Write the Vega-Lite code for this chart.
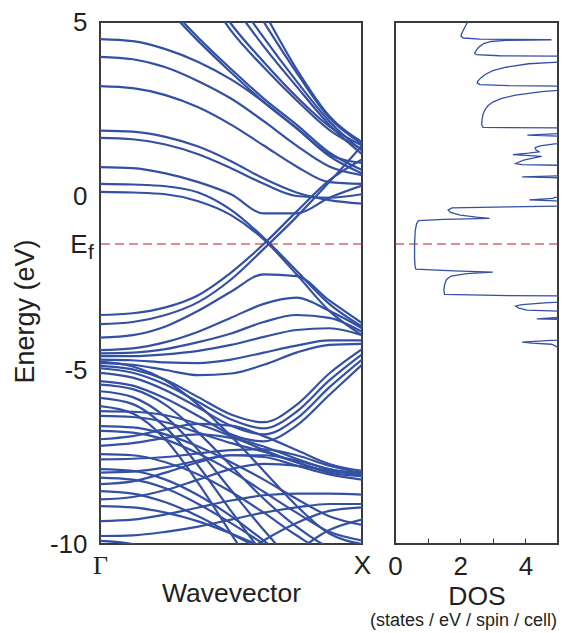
{
  "$schema": "https://vega.github.io/schema/vega-lite/v6.json",
  "background": "white",
  "padding": {"left": 10, "top": 8, "right": 2, "bottom": 2},
  "config": {
    "view": {"stroke": "#3a3a3a", "strokeWidth": 2},
    "axis": {"grid": false, "domain": false, "labelFont": "Liberation Sans", "titleFont": "Liberation Sans", "labelColor": "#231f20", "titleColor": "#231f20", "labelFontSize": 26, "titleFontSize": 26.5, "titleFontWeight": "normal"},
    "title": {"font": "Liberation Sans", "color": "#231f20", "fontWeight": "normal"}
  },
  "datasets": {
    "bands": [
      {"b":1,"x":0,"e":6.3},{"b":1,"x":0.125,"e":6.1},{"b":1,"x":0.25,"e":5.4},{"b":1,"x":0.375,"e":4.45},{"b":1,"x":0.5,"e":3.55},{"b":1,"x":0.625,"e":2.7},{"b":1,"x":0.75,"e":1.95},{"b":1,"x":0.875,"e":1.15},{"b":1,"x":1,"e":0.65},
      {"b":2,"x":0,"e":6.4},{"b":2,"x":0.125,"e":6.2},{"b":2,"x":0.25,"e":5.5},{"b":2,"x":0.375,"e":4.55},{"b":2,"x":0.5,"e":3.65},{"b":2,"x":0.625,"e":2.8},{"b":2,"x":0.75,"e":2.05},{"b":2,"x":0.875,"e":1.25},{"b":2,"x":1,"e":0.75},
      {"b":3,"x":0,"e":8.6},{"b":3,"x":0.125,"e":8.3},{"b":3,"x":0.25,"e":7.5},{"b":3,"x":0.375,"e":6.2},{"b":3,"x":0.5,"e":4.75},{"b":3,"x":0.625,"e":3.7},{"b":3,"x":0.75,"e":2.75},{"b":3,"x":0.875,"e":1.9},{"b":3,"x":1,"e":1.35},
      {"b":4,"x":0,"e":8.8},{"b":4,"x":0.125,"e":8.5},{"b":4,"x":0.25,"e":7.7},{"b":4,"x":0.375,"e":6.4},{"b":4,"x":0.5,"e":4.95},{"b":4,"x":0.625,"e":3.85},{"b":4,"x":0.75,"e":2.85},{"b":4,"x":0.875,"e":2.0},{"b":4,"x":1,"e":1.45},
      {"b":5,"x":0,"e":9.6},{"b":5,"x":0.125,"e":9.3},{"b":5,"x":0.25,"e":8.5},{"b":5,"x":0.375,"e":7.2},{"b":5,"x":0.5,"e":5.6},{"b":5,"x":0.625,"e":4.3},{"b":5,"x":0.75,"e":3.15},{"b":5,"x":0.875,"e":2.05},{"b":5,"x":1,"e":1.2},
      {"b":6,"x":0,"e":9.9},{"b":6,"x":0.125,"e":9.6},{"b":6,"x":0.25,"e":8.8},{"b":6,"x":0.375,"e":7.5},{"b":6,"x":0.5,"e":5.9},{"b":6,"x":0.625,"e":4.55},{"b":6,"x":0.75,"e":3.3},{"b":6,"x":0.875,"e":2.15},{"b":6,"x":1,"e":1.3},
      {"b":7,"x":0,"e":10.6},{"b":7,"x":0.125,"e":10.3},{"b":7,"x":0.25,"e":9.5},{"b":7,"x":0.375,"e":8.1},{"b":7,"x":0.5,"e":6.5},{"b":7,"x":0.625,"e":5.0},{"b":7,"x":0.75,"e":3.55},{"b":7,"x":0.875,"e":2.25},{"b":7,"x":1,"e":1.5},
      {"b":8,"x":0,"e":11.1},{"b":8,"x":0.125,"e":10.8},{"b":8,"x":0.25,"e":10.0},{"b":8,"x":0.375,"e":8.6},{"b":8,"x":0.5,"e":7.0},{"b":8,"x":0.625,"e":5.3},{"b":8,"x":0.75,"e":3.65},{"b":8,"x":0.875,"e":2.3},{"b":8,"x":1,"e":1.55},
      {"b":9,"x":0,"e":4.51},{"b":9,"x":0.125,"e":4.45},{"b":9,"x":0.25,"e":4.22},{"b":9,"x":0.375,"e":3.85},{"b":9,"x":0.5,"e":3.35},{"b":9,"x":0.625,"e":2.7},{"b":9,"x":0.75,"e":1.95},{"b":9,"x":0.875,"e":1.2},{"b":9,"x":1,"e":0.95},
      {"b":10,"x":0,"e":4.0},{"b":10,"x":0.125,"e":3.93},{"b":10,"x":0.25,"e":3.7},{"b":10,"x":0.375,"e":3.3},{"b":10,"x":0.5,"e":2.8},{"b":10,"x":0.625,"e":2.15},{"b":10,"x":0.75,"e":1.45},{"b":10,"x":0.875,"e":0.85},{"b":10,"x":1,"e":0.6},
      {"b":11,"x":0,"e":3.16},{"b":11,"x":0.125,"e":3.1},{"b":11,"x":0.25,"e":2.9},{"b":11,"x":0.375,"e":2.55},{"b":11,"x":0.5,"e":2.05},{"b":11,"x":0.625,"e":1.45},{"b":11,"x":0.75,"e":0.85},{"b":11,"x":0.875,"e":0.4},{"b":11,"x":1,"e":0.35},
      {"b":12,"x":0,"e":1.88},{"b":12,"x":0.125,"e":1.85},{"b":12,"x":0.25,"e":1.7},{"b":12,"x":0.375,"e":1.42},{"b":12,"x":0.5,"e":1.0},{"b":12,"x":0.625,"e":0.5},{"b":12,"x":0.75,"e":0.1},{"b":12,"x":0.875,"e":-0.12},{"b":12,"x":1,"e":-0.22},
      {"b":13,"x":0,"e":1.67},{"b":13,"x":0.125,"e":1.63},{"b":13,"x":0.25,"e":1.48},{"b":13,"x":0.375,"e":1.2},{"b":13,"x":0.5,"e":0.8},{"b":13,"x":0.625,"e":0.35},{"b":13,"x":0.75,"e":0.0},{"b":13,"x":0.875,"e":-0.05},{"b":13,"x":1,"e":0.05},
      {"b":14,"x":0,"e":0.83},{"b":14,"x":0.125,"e":0.8},{"b":14,"x":0.25,"e":0.65},{"b":14,"x":0.375,"e":0.4},{"b":14,"x":0.5,"e":0.05},{"b":14,"x":0.625,"e":-0.5},{"b":14,"x":0.75,"e":-0.5},{"b":14,"x":0.875,"e":-0.05},{"b":14,"x":1,"e":0.3},
      {"b":15,"x":0,"e":0.35},{"b":15,"x":0.125,"e":0.33},{"b":15,"x":0.25,"e":0.28},{"b":15,"x":0.375,"e":0.1},{"b":15,"x":0.5,"e":-0.4},{"b":15,"x":0.625,"e":-1.2},{"b":15,"x":0.75,"e":-2.15},{"b":15,"x":0.875,"e":-3.1},{"b":15,"x":1,"e":-3.75},
      {"b":16,"x":0,"e":0.12},{"b":16,"x":0.125,"e":0.1},{"b":16,"x":0.25,"e":0.05},{"b":16,"x":0.375,"e":-0.15},{"b":16,"x":0.5,"e":-0.55},{"b":16,"x":0.625,"e":-1.25},{"b":16,"x":0.75,"e":-2.25},{"b":16,"x":0.875,"e":-3.3},{"b":16,"x":1,"e":-4.0},
      {"b":17,"x":0,"e":-3.42},{"b":17,"x":0.125,"e":-3.37},{"b":17,"x":0.25,"e":-3.2},{"b":17,"x":0.375,"e":-2.85},{"b":17,"x":0.5,"e":-2.2},{"b":17,"x":0.625,"e":-1.38},{"b":17,"x":0.75,"e":-0.45},{"b":17,"x":0.875,"e":0.45},{"b":17,"x":1,"e":1.05},
      {"b":18,"x":0,"e":-3.68},{"b":18,"x":0.125,"e":-3.62},{"b":18,"x":0.25,"e":-3.42},{"b":18,"x":0.375,"e":-3.05},{"b":18,"x":0.5,"e":-2.4},{"b":18,"x":0.625,"e":-1.52},{"b":18,"x":0.75,"e":-0.6},{"b":18,"x":0.875,"e":0.4},{"b":18,"x":1,"e":1.45},
      {"b":19,"x":0,"e":-4.07},{"b":19,"x":0.125,"e":-4.0},{"b":19,"x":0.25,"e":-3.75},{"b":19,"x":0.375,"e":-3.3},{"b":19,"x":0.5,"e":-2.75},{"b":19,"x":0.625,"e":-2.25},{"b":19,"x":0.75,"e":-2.3},{"b":19,"x":0.875,"e":-3.0},{"b":19,"x":1,"e":-3.65},
      {"b":20,"x":0,"e":-4.43},{"b":20,"x":0.125,"e":-4.38},{"b":20,"x":0.25,"e":-4.2},{"b":20,"x":0.375,"e":-3.9},{"b":20,"x":0.5,"e":-3.5},{"b":20,"x":0.625,"e":-3.1},{"b":20,"x":0.75,"e":-2.92},{"b":20,"x":0.875,"e":-3.3},{"b":20,"x":1,"e":-3.8},
      {"b":21,"x":0,"e":-4.52},{"b":21,"x":0.125,"e":-4.5},{"b":21,"x":0.25,"e":-4.4},{"b":21,"x":0.375,"e":-4.2},{"b":21,"x":0.5,"e":-3.95},{"b":21,"x":0.625,"e":-3.62},{"b":21,"x":0.75,"e":-3.42},{"b":21,"x":0.875,"e":-3.5},{"b":21,"x":1,"e":-3.9},
      {"b":22,"x":0,"e":-4.6},{"b":22,"x":0.125,"e":-4.6},{"b":22,"x":0.25,"e":-4.55},{"b":22,"x":0.375,"e":-4.45},{"b":22,"x":0.5,"e":-4.28},{"b":22,"x":0.625,"e":-4.05},{"b":22,"x":0.75,"e":-3.85},{"b":22,"x":0.875,"e":-3.8},{"b":22,"x":1,"e":-4.0},
      {"b":23,"x":0,"e":-4.7},{"b":23,"x":0.125,"e":-4.72},{"b":23,"x":0.25,"e":-4.78},{"b":23,"x":0.375,"e":-4.8},{"b":23,"x":0.5,"e":-4.7},{"b":23,"x":0.625,"e":-4.5},{"b":23,"x":0.75,"e":-4.3},{"b":23,"x":0.875,"e":-4.15},{"b":23,"x":1,"e":-4.15},
      {"b":24,"x":0,"e":-4.8},{"b":24,"x":0.125,"e":-4.85},{"b":24,"x":0.25,"e":-5.0},{"b":24,"x":0.375,"e":-5.15},{"b":24,"x":0.5,"e":-5.1},{"b":24,"x":0.625,"e":-4.85},{"b":24,"x":0.75,"e":-4.5},{"b":24,"x":0.875,"e":-4.28},{"b":24,"x":1,"e":-4.25},
      {"b":25,"x":0,"e":-4.88},{"b":25,"x":0.125,"e":-4.98},{"b":25,"x":0.25,"e":-5.28},{"b":25,"x":0.375,"e":-5.78},{"b":25,"x":0.5,"e":-6.28},{"b":25,"x":0.625,"e":-6.5},{"b":25,"x":0.75,"e":-6.0},{"b":25,"x":0.875,"e":-5.1},{"b":25,"x":1,"e":-4.4},
      {"b":26,"x":0,"e":-4.95},{"b":26,"x":0.125,"e":-5.08},{"b":26,"x":0.25,"e":-5.42},{"b":26,"x":0.375,"e":-5.92},{"b":26,"x":0.5,"e":-6.42},{"b":26,"x":0.625,"e":-6.68},{"b":26,"x":0.75,"e":-6.2},{"b":26,"x":0.875,"e":-5.3},{"b":26,"x":1,"e":-4.55},
      {"b":27,"x":0,"e":-5.08},{"b":27,"x":0.125,"e":-5.22},{"b":27,"x":0.25,"e":-5.58},{"b":27,"x":0.375,"e":-6.08},{"b":27,"x":0.5,"e":-6.6},{"b":27,"x":0.625,"e":-6.85},{"b":27,"x":0.75,"e":-6.4},{"b":27,"x":0.875,"e":-5.5},{"b":27,"x":1,"e":-4.7},
      {"b":28,"x":0,"e":-5.32},{"b":28,"x":0.125,"e":-5.45},{"b":28,"x":0.25,"e":-5.82},{"b":28,"x":0.375,"e":-6.32},{"b":28,"x":0.5,"e":-6.85},{"b":28,"x":0.625,"e":-7.05},{"b":28,"x":0.75,"e":-6.6},{"b":28,"x":0.875,"e":-5.72},{"b":28,"x":1,"e":-4.85},
      {"b":29,"x":0,"e":-4.76},{"b":29,"x":0.125,"e":-4.9},{"b":29,"x":0.25,"e":-5.3},{"b":29,"x":0.375,"e":-6.0},{"b":29,"x":0.5,"e":-6.9},{"b":29,"x":0.625,"e":-7.9},{"b":29,"x":0.75,"e":-8.9},{"b":29,"x":0.875,"e":-9.7},{"b":29,"x":1,"e":-10.0},
      {"b":30,"x":0,"e":-5.42},{"b":30,"x":0.125,"e":-5.55},{"b":30,"x":0.25,"e":-6.0},{"b":30,"x":0.375,"e":-6.8},{"b":30,"x":0.5,"e":-7.75},{"b":30,"x":0.625,"e":-8.7},{"b":30,"x":0.75,"e":-9.5},{"b":30,"x":0.875,"e":-10.1},{"b":30,"x":1,"e":-10.3},
      {"b":31,"x":0,"e":-5.61},{"b":31,"x":0.125,"e":-5.78},{"b":31,"x":0.25,"e":-6.35},{"b":31,"x":0.375,"e":-7.3},{"b":31,"x":0.5,"e":-8.45},{"b":31,"x":0.625,"e":-9.6},{"b":31,"x":0.75,"e":-10.6},{"b":31,"x":0.875,"e":-11.2},{"b":31,"x":1,"e":-11.4},
      {"b":32,"x":0,"e":-5.8},{"b":32,"x":0.125,"e":-5.98},{"b":32,"x":0.25,"e":-6.65},{"b":32,"x":0.375,"e":-7.75},{"b":32,"x":0.5,"e":-9.05},{"b":32,"x":0.625,"e":-10.3},{"b":32,"x":0.75,"e":-11.3},{"b":32,"x":0.875,"e":-12.0},{"b":32,"x":1,"e":-12.2},
      {"b":33,"x":0,"e":-6.04},{"b":33,"x":0.125,"e":-6.25},{"b":33,"x":0.25,"e":-7.0},{"b":33,"x":0.375,"e":-8.25},{"b":33,"x":0.5,"e":-9.7},{"b":33,"x":0.625,"e":-11.1},{"b":33,"x":0.75,"e":-12.0},{"b":33,"x":0.875,"e":-12.5},{"b":33,"x":1,"e":-12.6},
      {"b":34,"x":0,"e":-6.18},{"b":34,"x":0.125,"e":-6.2},{"b":34,"x":0.25,"e":-6.3},{"b":34,"x":0.375,"e":-6.55},{"b":34,"x":0.5,"e":-6.9},{"b":34,"x":0.625,"e":-7.3},{"b":34,"x":0.75,"e":-7.65},{"b":34,"x":0.875,"e":-7.9},{"b":34,"x":1,"e":-7.95},
      {"b":35,"x":0,"e":-6.32},{"b":35,"x":0.125,"e":-6.35},{"b":35,"x":0.25,"e":-6.5},{"b":35,"x":0.375,"e":-6.8},{"b":35,"x":0.5,"e":-7.1},{"b":35,"x":0.625,"e":-7.35},{"b":35,"x":0.75,"e":-7.65},{"b":35,"x":0.875,"e":-7.95},{"b":35,"x":1,"e":-8.05},
      {"b":36,"x":0,"e":-6.61},{"b":36,"x":0.125,"e":-6.65},{"b":36,"x":0.25,"e":-6.85},{"b":36,"x":0.375,"e":-7.2},{"b":36,"x":0.5,"e":-7.65},{"b":36,"x":0.625,"e":-8.15},{"b":36,"x":0.75,"e":-8.7},{"b":36,"x":0.875,"e":-9.2},{"b":36,"x":1,"e":-9.45},
      {"b":37,"x":0,"e":-6.75},{"b":37,"x":0.125,"e":-6.8},{"b":37,"x":0.25,"e":-7.0},{"b":37,"x":0.375,"e":-7.4},{"b":37,"x":0.5,"e":-7.9},{"b":37,"x":0.625,"e":-8.5},{"b":37,"x":0.75,"e":-9.1},{"b":37,"x":0.875,"e":-9.65},{"b":37,"x":1,"e":-9.9},
      {"b":38,"x":0,"e":-6.99},{"b":38,"x":0.125,"e":-6.9},{"b":38,"x":0.25,"e":-6.7},{"b":38,"x":0.375,"e":-6.55},{"b":38,"x":0.5,"e":-6.6},{"b":38,"x":0.625,"e":-6.9},{"b":38,"x":0.75,"e":-7.3},{"b":38,"x":0.875,"e":-7.7},{"b":38,"x":1,"e":-7.9},
      {"b":39,"x":0,"e":-7.18},{"b":39,"x":0.125,"e":-7.1},{"b":39,"x":0.25,"e":-6.95},{"b":39,"x":0.375,"e":-6.85},{"b":39,"x":0.5,"e":-6.95},{"b":39,"x":0.625,"e":-7.2},{"b":39,"x":0.75,"e":-7.55},{"b":39,"x":0.875,"e":-7.85},{"b":39,"x":1,"e":-7.98},
      {"b":40,"x":0,"e":-7.42},{"b":40,"x":0.125,"e":-7.45},{"b":40,"x":0.25,"e":-7.65},{"b":40,"x":0.375,"e":-8.0},{"b":40,"x":0.5,"e":-8.5},{"b":40,"x":0.625,"e":-9.1},{"b":40,"x":0.75,"e":-9.75},{"b":40,"x":0.875,"e":-10.3},{"b":40,"x":1,"e":-10.5},
      {"b":41,"x":0,"e":-7.57},{"b":41,"x":0.125,"e":-7.55},{"b":41,"x":0.25,"e":-7.5},{"b":41,"x":0.375,"e":-7.4},{"b":41,"x":0.5,"e":-7.3},{"b":41,"x":0.625,"e":-7.28},{"b":41,"x":0.75,"e":-7.45},{"b":41,"x":0.875,"e":-7.75},{"b":41,"x":1,"e":-7.96},
      {"b":42,"x":0,"e":-7.85},{"b":42,"x":0.125,"e":-7.9},{"b":42,"x":0.25,"e":-8.15},{"b":42,"x":0.375,"e":-8.6},{"b":42,"x":0.5,"e":-9.2},{"b":42,"x":0.625,"e":-9.9},{"b":42,"x":0.75,"e":-10.6},{"b":42,"x":0.875,"e":-11.1},{"b":42,"x":1,"e":-11.3},
      {"b":43,"x":0,"e":-7.95},{"b":43,"x":0.125,"e":-7.92},{"b":43,"x":0.25,"e":-7.8},{"b":43,"x":0.375,"e":-7.6},{"b":43,"x":0.5,"e":-7.45},{"b":43,"x":0.625,"e":-7.45},{"b":43,"x":0.75,"e":-7.6},{"b":43,"x":0.875,"e":-7.85},{"b":43,"x":1,"e":-8.05},
      {"b":44,"x":0,"e":-8.09},{"b":44,"x":0.125,"e":-8.15},{"b":44,"x":0.25,"e":-8.4},{"b":44,"x":0.375,"e":-8.85},{"b":44,"x":0.5,"e":-9.4},{"b":44,"x":0.625,"e":-10.0},{"b":44,"x":0.75,"e":-10.6},{"b":44,"x":0.875,"e":-11.1},{"b":44,"x":1,"e":-11.3},
      {"b":45,"x":0,"e":-8.28},{"b":45,"x":0.125,"e":-8.2},{"b":45,"x":0.25,"e":-7.95},{"b":45,"x":0.375,"e":-7.65},{"b":45,"x":0.5,"e":-7.45},{"b":45,"x":0.625,"e":-7.5},{"b":45,"x":0.75,"e":-7.75},{"b":45,"x":0.875,"e":-8.0},{"b":45,"x":1,"e":-8.15},
      {"b":46,"x":0,"e":-8.48},{"b":46,"x":0.125,"e":-8.55},{"b":46,"x":0.25,"e":-8.8},{"b":46,"x":0.375,"e":-9.2},{"b":46,"x":0.5,"e":-9.7},{"b":46,"x":0.625,"e":-10.2},{"b":46,"x":0.75,"e":-10.7},{"b":46,"x":0.875,"e":-11.1},{"b":46,"x":1,"e":-11.3},
      {"b":47,"x":0,"e":-8.72},{"b":47,"x":0.125,"e":-8.65},{"b":47,"x":0.25,"e":-8.45},{"b":47,"x":0.375,"e":-8.15},{"b":47,"x":0.5,"e":-7.85},{"b":47,"x":0.625,"e":-7.7},{"b":47,"x":0.75,"e":-7.75},{"b":47,"x":0.875,"e":-7.9},{"b":47,"x":1,"e":-8.0},
      {"b":48,"x":0,"e":-8.91},{"b":48,"x":0.125,"e":-8.95},{"b":48,"x":0.25,"e":-9.1},{"b":48,"x":0.375,"e":-9.35},{"b":48,"x":0.5,"e":-9.7},{"b":48,"x":0.625,"e":-10.1},{"b":48,"x":0.75,"e":-10.5},{"b":48,"x":0.875,"e":-10.8},{"b":48,"x":1,"e":-10.9},
      {"b":49,"x":0,"e":-9.34},{"b":49,"x":0.125,"e":-9.3},{"b":49,"x":0.25,"e":-9.15},{"b":49,"x":0.375,"e":-8.95},{"b":49,"x":0.5,"e":-8.75},{"b":49,"x":0.625,"e":-8.6},{"b":49,"x":0.75,"e":-8.55},{"b":49,"x":0.875,"e":-8.55},{"b":49,"x":1,"e":-8.58},
      {"b":50,"x":0,"e":-9.77},{"b":50,"x":0.125,"e":-9.75},{"b":50,"x":0.25,"e":-9.65},{"b":50,"x":0.375,"e":-9.5},{"b":50,"x":0.5,"e":-9.3},{"b":50,"x":0.625,"e":-9.1},{"b":50,"x":0.75,"e":-8.95},{"b":50,"x":0.875,"e":-8.85},{"b":50,"x":1,"e":-8.85},
      {"b":51,"x":0,"e":-9.91},{"b":51,"x":0.125,"e":-10.0},{"b":51,"x":0.25,"e":-10.3},{"b":51,"x":0.375,"e":-10.7},{"b":51,"x":0.5,"e":-10.9},{"b":51,"x":0.625,"e":-10.7},{"b":51,"x":0.75,"e":-10.2},{"b":51,"x":0.875,"e":-9.6},{"b":51,"x":1,"e":-9.3},
      {"b":52,"x":0,"e":-12.0},{"b":52,"x":0.125,"e":-12.0},{"b":52,"x":0.25,"e":-11.8},{"b":52,"x":0.375,"e":-11.2},{"b":52,"x":0.5,"e":-10.5},{"b":52,"x":0.625,"e":-9.9},{"b":52,"x":0.75,"e":-9.4},{"b":52,"x":0.875,"e":-9.05},{"b":52,"x":1,"e":-8.95}
    ],
    "dos": [
      {"e":5.0,"d":2.23},{"e":4.85,"d":2.14},{"e":4.7,"d":2.06},{"e":4.6,"d":2.02},{"e":4.54,"d":2.1},{"e":4.51,"d":2.6},{"e":4.49,"d":4.8},{"e":4.47,"d":3.4},{"e":4.44,"d":2.95},{"e":4.38,"d":2.72},{"e":4.3,"d":2.6},{"e":4.2,"d":2.5},{"e":4.1,"d":2.44},{"e":4.06,"d":2.5},{"e":4.03,"d":3.2},{"e":4.01,"d":6},
      {"e":3.9,"d":6},{"e":3.86,"d":5.2},{"e":3.8,"d":4.1},{"e":3.7,"d":3.4},{"e":3.6,"d":3.0},{"e":3.5,"d":2.78},{"e":3.4,"d":2.64},{"e":3.3,"d":2.54},{"e":3.25,"d":2.52},{"e":3.2,"d":2.6},{"e":3.17,"d":3.5},{"e":3.15,"d":6},
      {"e":3.1,"d":6},{"e":3.05,"d":5.2},{"e":3.0,"d":4.5},{"e":2.9,"d":3.7},{"e":2.8,"d":3.25},{"e":2.7,"d":3.0},{"e":2.6,"d":2.86},{"e":2.5,"d":2.77},{"e":2.35,"d":2.7},{"e":2.2,"d":2.67},{"e":2.05,"d":2.66},{"e":1.97,"d":2.7},{"e":1.95,"d":6},
      {"e":1.84,"d":6},{"e":1.79,"d":5.0},{"e":1.75,"d":4.06},{"e":1.72,"d":5.0},{"e":1.68,"d":6},
      {"e":1.57,"d":6},{"e":1.5,"d":4.9},{"e":1.44,"d":4.45},{"e":1.39,"d":4.3},{"e":1.33,"d":4.32},{"e":1.27,"d":4.42},{"e":1.23,"d":4.1},{"e":1.19,"d":3.62},{"e":1.17,"d":4.0},{"e":1.14,"d":4.5},{"e":1.1,"d":4.3},{"e":1.03,"d":3.95},{"e":0.97,"d":3.78},{"e":0.93,"d":3.7},{"e":0.9,"d":3.9},{"e":0.87,"d":6},
      {"e":0.62,"d":6},{"e":0.58,"d":5.0},{"e":0.55,"d":3.9},{"e":0.53,"d":4.8},{"e":0.5,"d":6},
      {"e":0.02,"d":6},{"e":-0.04,"d":4.9},{"e":-0.07,"d":4.85},{"e":-0.11,"d":4.12},{"e":-0.14,"d":4.9},{"e":-0.2,"d":6},
      {"e":-0.28,"d":6},{"e":-0.31,"d":3.5},{"e":-0.34,"d":1.75},{"e":-0.4,"d":1.63},{"e":-0.47,"d":1.7},{"e":-0.55,"d":2.0},{"e":-0.61,"d":2.5},{"e":-0.645,"d":2.9},{"e":-0.67,"d":1.5},{"e":-0.71,"d":0.72},{"e":-0.8,"d":0.66},{"e":-1.0,"d":0.62},{"e":-1.4,"d":0.6},{"e":-1.8,"d":0.6},{"e":-2.05,"d":0.62},{"e":-2.1,"d":0.64},{"e":-2.15,"d":1.8},{"e":-2.19,"d":3.0},{"e":-2.23,"d":2.2},{"e":-2.3,"d":1.72},{"e":-2.4,"d":1.58},{"e":-2.55,"d":1.52},{"e":-2.7,"d":1.5},{"e":-2.83,"d":1.52},{"e":-2.86,"d":3.5},{"e":-2.88,"d":6},
      {"e":-3.0,"d":6},{"e":-3.07,"d":4.6},{"e":-3.12,"d":3.9},{"e":-3.16,"d":3.7},{"e":-3.22,"d":3.8},{"e":-3.28,"d":4.05},{"e":-3.31,"d":5.0},{"e":-3.33,"d":6},
      {"e":-3.45,"d":6},{"e":-3.5,"d":4.8},{"e":-3.53,"d":4.35},{"e":-3.56,"d":6},
      {"e":-4.1,"d":6},{"e":-4.15,"d":4.8},{"e":-4.2,"d":3.9},{"e":-4.23,"d":4.2},{"e":-4.26,"d":4.8},{"e":-4.3,"d":4.9},{"e":-4.36,"d":5.0},{"e":-4.4,"d":6},{"e":-10,"d":6}
    ],
    "ef": [{"e": -1.38}],
    "sub": [{"x": 0, "e": -1.38, "t": "f"}]
  },
  "spacing": 33,
  "bounds": "flush",
  "hconcat": [
    {
      "width": 262,
      "height": 522,
      "layer": [
        {
          "data": {"name": "bands"},
          "mark": {"type": "line", "interpolate": "monotone", "clip": true, "strokeWidth": 2.2, "color": "#3450a2"},
          "encoding": {
            "x": {"field": "x", "type": "quantitative", "scale": {"domain": [0, 1], "nice": false},
                  "axis": {"values": [0, 1], "labelExpr": "datum.value == 0 ? 'Γ' : 'X'", "title": "Wavevector", "ticks": false, "labelPadding": 8, "titlePadding": 2, "labelFlush": false,
                           "labelFont": {"condition": {"test": "datum.value == 0", "value": "Liberation Serif"}, "value": "Liberation Sans"}}},
            "y": {"field": "e", "type": "quantitative", "scale": {"domain": [-10, 5], "nice": false},
                  "axis": {"values": [-10, -5, -1.38, 0, 5], "labelExpr": "datum.value == -1.38 ? 'E' : '' + datum.value", "title": "Energy (eV)", "ticks": false, "labelPadding": 13, "labelFlush": false,
                           "titleAngle": -90, "titleX": -67, "titleY": 289, "titleAlign": "center", "titleBaseline": "alphabetic", "titleFontSize": 27}},
            "detail": {"field": "b", "type": "nominal"},
            "order": {"field": "x", "type": "quantitative"}
          }
        },
        {
          "data": {"name": "ef"},
          "mark": {"type": "rule", "color": "#b52222", "strokeDash": [9, 5], "strokeWidth": 1.2},
          "encoding": {"y": {"field": "e", "type": "quantitative"}}
        },
        {
          "data": {"name": "sub"},
          "mark": {"type": "text", "clip": false, "align": "left", "baseline": "alphabetic", "dx": -12, "dy": 15, "fontSize": 21, "font": "Liberation Sans", "color": "#231f20"},
          "encoding": {"x": {"field": "x", "type": "quantitative"}, "y": {"field": "e", "type": "quantitative"}, "text": {"field": "t"}}
        }
      ]
    },
    {
      "width": 163,
      "height": 522,
      "title": {"text": "(states / eV / spin / cell)", "orient": "bottom", "fontSize": 18, "anchor": "middle", "frame": "group", "dx": -13, "offset": 2},
      "layer": [
        {
          "data": {"name": "dos"},
          "mark": {"type": "line", "clip": true, "strokeWidth": 1.3, "color": "#3450a2"},
          "encoding": {
            "x": {"field": "d", "type": "quantitative", "scale": {"domain": [0, 5], "nice": false},
                  "axis": {"values": [0, 1, 2, 3, 4], "labelExpr": "datum.value % 2 == 0 ? '' + datum.value : ''", "title": "DOS", "ticks": true, "tickSize": -6, "tickColor": "#3a3a3a", "labelPadding": 15, "titlePadding": 4, "labelFlush": false}},
            "y": {"field": "e", "type": "quantitative", "scale": {"domain": [-10, 5], "nice": false}, "axis": null},
            "order": {"field": "e", "type": "quantitative", "sort": "descending"}
          }
        },
        {
          "data": {"name": "ef"},
          "mark": {"type": "rule", "color": "#b52222", "strokeDash": [9, 5], "strokeWidth": 1.2},
          "encoding": {"y": {"field": "e", "type": "quantitative"}}
        }
      ]
    }
  ]
}
